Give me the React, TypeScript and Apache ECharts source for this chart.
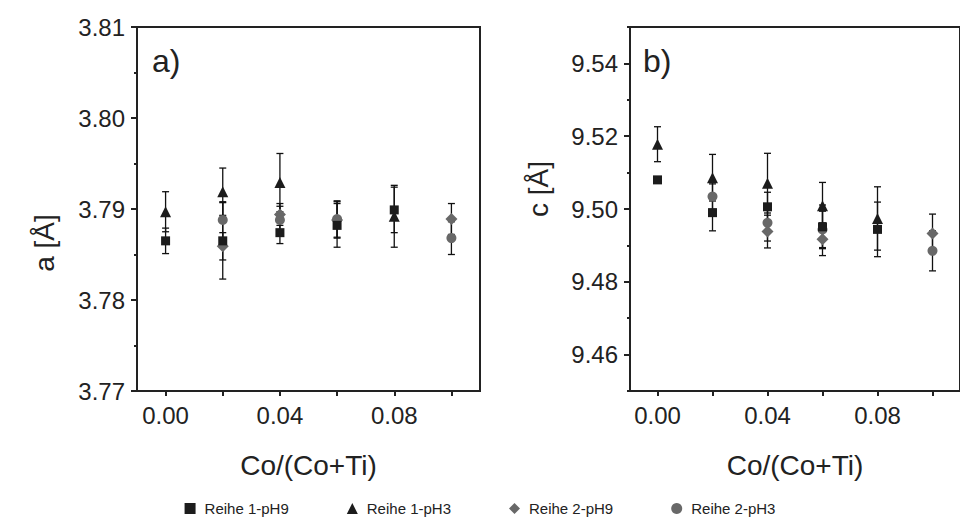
import React, { useEffect, useRef } from "react";
import * as echarts from "echarts";

const xValues = [0, 0.02, 0.04, 0.06, 0.08, 0.1];
const seriesNames = ["Reihe 1-pH9", "Reihe 1-pH3", "Reihe 2-pH9", "Reihe 2-pH3"];

// Panel a) lattice parameter a [Å]
const aR1pH9 = [3.7865, 3.7865, 3.7874, 3.7882, 3.7899, null];
const aR1pH9Err = [0.0014, 0.0042, 0.0012, 0.0024, 0.0025, null];
const aR1pH3 = [3.7897, 3.7919, 3.7929, null, 3.7892, null];
const aR1pH3Err = [0.0022, 0.0026, 0.0032, null, 0.0034, null];
const aR2pH9 = [null, 3.7859, 3.7894, 3.7888, null, 3.7889];
const aR2pH9Err = [null, 0.0015, 0.0012, 0.002, null, 0.0017];
const aR2pH3 = [null, 3.7888, 3.7888, 3.7889, null, 3.7868];
const aR2pH3Err = [null, 0.002, 0.0015, 0.002, null, 0.0018];

// Panel b) lattice parameter c [Å]
const cR1pH9 = [9.508, 9.499, 9.5006, 9.4951, 9.4944, null];
const cR1pH9Err = [0.0006, 0.005, 0.004, 0.006, 0.0075, null];
const cR1pH3 = [9.5178, 9.5086, 9.5071, 9.5009, 9.4974, null];
const cR1pH3Err = [0.0048, 0.0064, 0.0082, 0.0064, 0.0087, null];
const cR2pH9 = [null, null, 9.4938, 9.4917, null, 9.4933];
const cR2pH9Err = [null, null, 0.0045, 0.0045, null, 0.0053];
const cR2pH3 = [null, 9.5034, 9.4962, 9.4944, null, 9.4885];
const cR2pH3Err = [null, 0.0035, 0.005, 0.005, null, 0.0055];

const xTickValues = [0, 0.02, 0.04, 0.06, 0.08, 0.1];
const xLabelValues = [0, 0.04, 0.08];
const cMajorTicks = [9.46, 9.48, 9.5, 9.52, 9.54];
const cMinorTicks = [9.45, 9.47, 9.49, 9.51, 9.53, 9.55];

const FONT = "'Liberation Sans', Arial, Helvetica, sans-serif";
const BLACK = "#1c1c1c";
const GREY = "#686868";
const symbols = ["rect", "triangle", "diamond", "circle"];
const symbolSizes = [9, 11, 12, 10];
const colors = [BLACK, BLACK, GREY, GREY];

function pts(ys: (number | null)[]) {
  return xValues.map((x, i) => (ys[i] == null ? null : [x, ys[i]])).filter(Boolean);
}
function errPts(ys: (number | null)[], es: (number | null)[]) {
  return xValues
    .map((x, i) => (ys[i] == null || es[i] == null ? null : [x, ys[i], es[i]]))
    .filter(Boolean);
}

function errorSeries(idx: number, ys: any[], es: any[]) {
  return {
    type: "custom",
    name: "err" + idx,
    xAxisIndex: idx,
    yAxisIndex: idx === 0 ? 0 : 1,
    silent: true,
    z: 1,
    data: errPts(ys, es),
    encode: { x: 0, y: 1 },
    renderItem: (params: any, api: any) => {
      const x = api.value(0);
      const y = api.value(1);
      const e = api.value(2);
      const top = api.coord([x, y + e]);
      const bot = api.coord([x, y - e]);
      const w = 3.5;
      const st = { stroke: "#111", lineWidth: 1.3 };
      return {
        type: "group",
        children: [
          { type: "line", shape: { x1: top[0], y1: top[1], x2: bot[0], y2: bot[1] }, style: st },
          { type: "line", shape: { x1: top[0] - w, y1: top[1], x2: top[0] + w, y2: top[1] }, style: st },
          { type: "line", shape: { x1: bot[0] - w, y1: bot[1], x2: bot[0] + w, y2: bot[1] }, style: st },
        ],
      };
    },
  };
}

function scatterSeries(k: number, panel: number, ys: any[]) {
  return {
    type: "scatter",
    name: seriesNames[k],
    xAxisIndex: panel,
    yAxisIndex: panel === 0 ? 0 : 1,
    symbol: symbols[k],
    symbolSize: symbolSizes[k],
    itemStyle: { color: colors[k], opacity: 1 },
    z: 3 + (k >= 2 ? 0 : 1),
    data: pts(ys),
  };
}

const axisLineStyle = { show: true, onZero: false, lineStyle: { color: "#222", width: 2 } };
const labelStyle = { color: "#222", fontSize: 24, fontFamily: FONT };

function xAxisDef(gridIndex: number) {
  return {
    type: "value",
    gridIndex,
    min: -0.01,
    max: 0.11,
    name: "Co/(Co+Ti)",
    nameLocation: "middle",
    nameGap: 60,
    nameTextStyle: { color: "#222", fontSize: 28, fontFamily: FONT },
    axisLine: axisLineStyle,
    axisTick: { show: true, inside: false, length: 5, customValues: xTickValues, lineStyle: { color: "#222", width: 2 } },
    axisLabel: { ...labelStyle, margin: 12, customValues: xLabelValues, formatter: (v: number) => v.toFixed(2) },
    splitLine: { show: false },
  };
}

export default function App() {
  const ref = useRef<HTMLDivElement>(null);
  useEffect(() => {
    if (!ref.current) return;
    const chart = echarts.init(ref.current, null, { renderer: "svg" });
    const option: any = {
      animation: false,
      backgroundColor: "#fff",
      grid: [
        { left: 137, top: 27, width: 343, height: 364, show: true, borderColor: "#222", borderWidth: 2 },
        { left: 630, top: 27, width: 343, height: 364, show: true, borderColor: "#222", borderWidth: 2 },
      ],
      xAxis: [xAxisDef(0), xAxisDef(1)],
      yAxis: [
        {
          type: "value",
          gridIndex: 0,
          position: "left",
          min: 3.77,
          max: 3.81,
          interval: 0.01,
          axisLine: axisLineStyle,
          axisTick: { show: true, length: 6, lineStyle: { color: "#222", width: 2 } },
          minorTick: { show: true, splitNumber: 2, length: 3, lineStyle: { color: "#222", width: 2 } },
          axisLabel: { ...labelStyle, margin: 12, formatter: (v: number) => v.toFixed(2) },
          splitLine: { show: false },
        },
        {
          type: "value",
          gridIndex: 1,
          position: "left",
          min: 9.45,
          max: 9.55,
          axisLine: axisLineStyle,
          axisTick: { show: true, length: 6, customValues: cMajorTicks, lineStyle: { color: "#222", width: 2 } },
          axisLabel: { ...labelStyle, margin: 12, customValues: cMajorTicks, formatter: (v: number) => v.toFixed(2) },
          splitLine: { show: false },
        },
        {
          type: "value",
          gridIndex: 1,
          position: "left",
          offset: 0,
          min: 9.45,
          max: 9.55,
          axisLine: { show: false, onZero: false },
          axisTick: { show: true, length: 3, customValues: cMinorTicks, lineStyle: { color: "#222", width: 2 } },
          axisLabel: { show: false },
          splitLine: { show: false },
        },
      ],
      legend: {
        data: seriesNames,
        bottom: 8,
        left: "center",
        itemGap: 58,
        itemWidth: 11,
        itemHeight: 11,
        textStyle: { color: "#222", fontSize: 15, fontFamily: FONT, padding: [0, 0, 0, 4] },
      },
      graphic: [
        { type: "text", x: 152, y: 45, style: { text: "a)", font: `32px ${FONT}`, fill: "#222" } },
        { type: "text", x: 643, y: 45, style: { text: "b)", font: `32px ${FONT}`, fill: "#222" } },
        {
          type: "text", x: 44, y: 243, rotation: Math.PI / 2,
          style: { text: "a [Å]", font: `28px ${FONT}`, fill: "#222", align: "center", verticalAlign: "middle" },
        },
        {
          type: "text", x: 538, y: 189, rotation: Math.PI / 2,
          style: { text: "c [Å]", font: `28px ${FONT}`, fill: "#222", align: "center", verticalAlign: "middle" },
        },
      ],
      series: [
        errorSeries(0, aR1pH9, aR1pH9Err),
        errorSeries(0, aR1pH3, aR1pH3Err),
        errorSeries(0, aR2pH9, aR2pH9Err),
        errorSeries(0, aR2pH3, aR2pH3Err),
        errorSeries(1, cR1pH9, cR1pH9Err),
        errorSeries(1, cR1pH3, cR1pH3Err),
        errorSeries(1, cR2pH9, cR2pH9Err),
        errorSeries(1, cR2pH3, cR2pH3Err),
        scatterSeries(2, 0, aR2pH9),
        scatterSeries(3, 0, aR2pH3),
        scatterSeries(0, 0, aR1pH9),
        scatterSeries(1, 0, aR1pH3),
        scatterSeries(2, 1, cR2pH9),
        scatterSeries(3, 1, cR2pH3),
        scatterSeries(0, 1, cR1pH9),
        scatterSeries(1, 1, cR1pH3),
      ],
    };
    chart.setOption(option);
    return () => chart.dispose();
  }, []);
  return (
    <div
      ref={ref}
      style={{ position: "fixed", left: 0, top: 0, width: 960, height: 529, background: "#fff" }}
    />
  );
}
